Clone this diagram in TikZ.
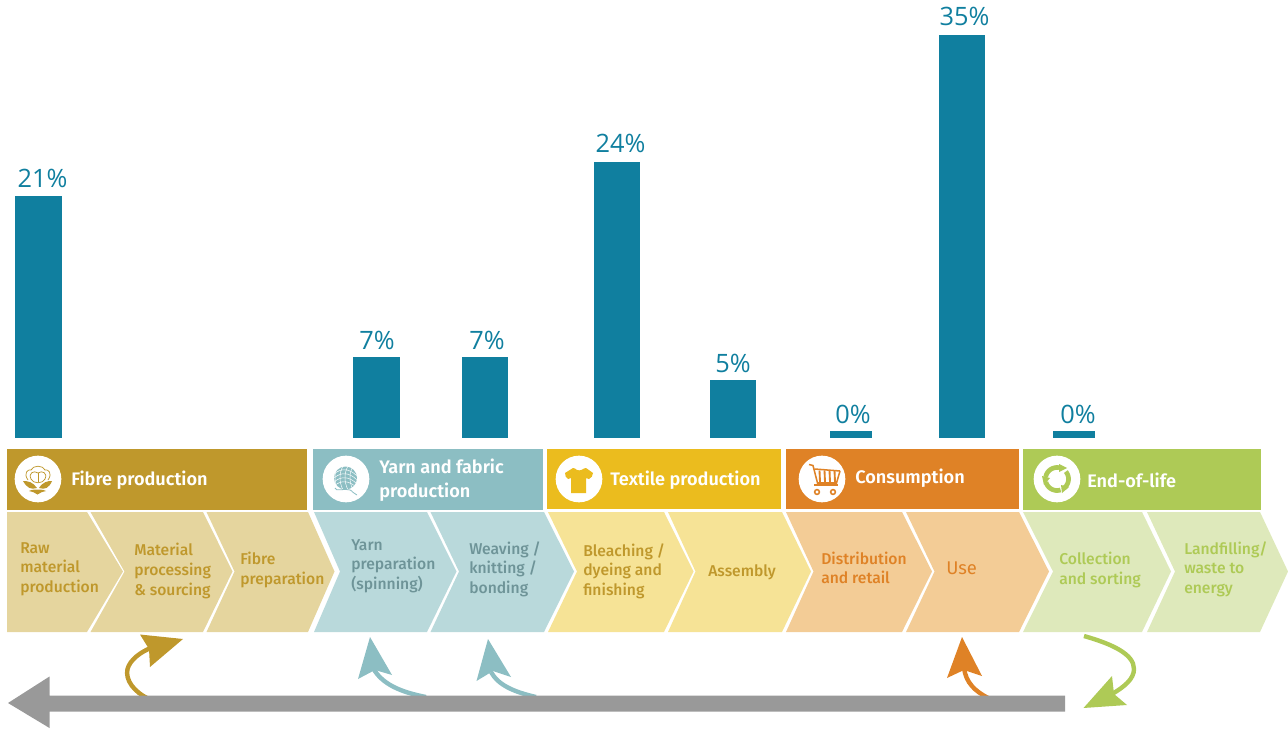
\documentclass[tikz,border=0pt]{standalone}
\usepackage{fontspec}
\setmainfont{Liberation Sans}
\newfontfamily\pctfont{Open Sans}
\newfontfamily\stepfont{Fira Sans Medium}
\newfontfamily\lightstepfont{Fira Sans}
\newfontfamily\headfont{Fira Sans SemiBold}
\usetikzlibrary{arrows.meta,calc}
\definecolor{barc}{HTML}{107F9F}
\definecolor{goldD}{HTML}{BF982C}\definecolor{goldL}{HTML}{E5D59E}
\definecolor{tealD}{HTML}{8CBEC3}\definecolor{tealL}{HTML}{B9D9DB}\definecolor{tealT}{HTML}{6E9498}
\definecolor{yelD}{HTML}{EBBC1E}\definecolor{yelL}{HTML}{F6E396}
\definecolor{orD}{HTML}{DF8226}\definecolor{orL}{HTML}{F3CC96}
\definecolor{grD}{HTML}{AECA56}\definecolor{grL}{HTML}{DEE9BB}
\definecolor{greyc}{HTML}{999999}
\tikzset{
 x=0.75pt,y=-0.75pt,
 bar/.style={fill=barc,draw=none},
 pct/.style={font=\pctfont\fontsize{19}{19}\selectfont,text=barc,anchor=base,inner sep=0pt},
 htext/.style={font=\headfont\fontsize{13.6}{18}\selectfont,text=white,anchor=west,align=left,inner sep=0pt},
 stext/.style={font=\stepfont\fontsize{11.75}{14.7}\selectfont,anchor=west,align=left,inner sep=0pt},
 iconbg/.style={circle,fill=white,minimum size=35pt,inner sep=0pt},
 curve/.style={line width=3.3pt},
}
\begin{document}
\begin{tikzpicture}
\useasboundingbox (0,0) rectangle (1288,731);
% bars
\fill[bar] (15,196) rectangle (62,438);
\fill[bar] (353,357) rectangle (400,438);
\fill[bar] (462,357) rectangle (508,438);
\fill[bar] (594,162) rectangle (640,438);
\fill[bar] (710,380) rectangle (756,438);
\fill[bar] (830,431) rectangle (872,438);
\fill[bar] (939,35) rectangle (985,438);
\fill[bar] (1053,431) rectangle (1095,438);
\node[pct] (p1) at (42.5,187) {21\%};
\node[pct] (p2) at (377,349) {7\%};
\node[pct] (p3) at (487,349) {7\%};
\node[pct] (p4) at (620.5,152) {24\%};
\node[pct] (p5) at (733,372) {5\%};
\node[pct] (p6) at (853,423) {0\%};
\node[pct] (p7) at (964.5,26) {35\%};
\node[pct] (p8) at (1078,423) {0\%};
% header bands
\fill[goldD] (7,449) rectangle (307,510);
\fill[tealD] (313,449) rectangle (543,510);
\fill[yelD] (547,449) rectangle (781,509);
\fill[orD] (786,449) rectangle (1019,509);
\fill[grD] (1023,449) rectangle (1261,510);
% chevrons
\fill[goldL] (7,512) -- (87,512) -- (123,571.5) -- (87,632) -- (7,632) -- cycle;
\fill[goldL] (90.5,512) -- (203,512) -- (232.5,571.5) -- (203,632) -- (90.5,632) -- (124.5,571.5) -- cycle;
\fill[goldL] (206.5,512) -- (308,512) -- (334.5,571.5) -- (308,632) -- (206.5,632) -- (234.5,571.5) -- cycle;
\fill[tealL] (314,512) -- (427,512) -- (456.5,571.5) -- (427,632) -- (314,632) -- (340,571.5) -- cycle;
\fill[tealL] (430.5,512) -- (544,512) -- (574,571.5) -- (544,632) -- (430.5,632) -- (459,571.5) -- cycle;
\fill[yelL] (548,512) -- (664,512) -- (693.5,571.5) -- (664,632) -- (548,632) -- (577,571.5) -- cycle;
\fill[yelL] (668,512) -- (782,512) -- (811,571.5) -- (782,632) -- (668,632) -- (695.5,571.5) -- cycle;
\fill[orL] (786,512) -- (902,512) -- (932,571.5) -- (902,632) -- (786,632) -- (813.5,571.5) -- cycle;
\fill[orL] (906,512) -- (1019,512) -- (1049,571.5) -- (1019,632) -- (906,632) -- (934.5,571.5) -- cycle;
\fill[grL] (1023,512) -- (1142,512) -- (1171,571.5) -- (1142,632) -- (1023,632) -- (1053,571.5) -- cycle;
\fill[grL] (1147,512) -- (1260,512) -- (1288,571.5) -- (1260,632) -- (1147,632) -- (1175,571.5) -- cycle;
% header texts
\node[htext] (h1) at (71,480) {Fibre production};
\node[htext] (h2) at (379,480.5) {Yarn and fabric\\production};
\node[htext] (h3) at (610,480.5) {Textile production};
\node[htext] (h4) at (855,478) {Consumption};
\node[htext] (h5) at (1087,480.5) {End-of-life};
% step texts
\node[stext,text=goldD] (s1) at (20,569) {Raw\\material\\production};
\node[stext,text=goldD] (s2) at (134,571) {Material\\processing\\\&\ sourcing};
\node[stext,text=goldD] (s3) at (240,570) {Fibre\\preparation};
\node[stext,text=tealT] (s4) at (351,566) {Yarn\\preparation\\(spinning)};
\node[stext,text=tealT] (s5) at (469,569) {Weaving /\\knitting /\\bonding};
\node[stext,text=goldD] (s6) at (583,571) {Bleaching /\\dyeing and\\finishing};
\node[stext,text=goldD] (s7) at (708,572.5) {Assembly};
\node[stext,text=orD] (s8) at (821,568) {Distribution\\and retail};
\node[stext,text=orD,font=\lightstepfont\fontsize{13.8}{15}\selectfont] (s9) at (946,568) {Use};
\node[stext,text=grD] (s10) at (1059,570) {Collection\\and sorting};
\node[stext,text=grD] (s11) at (1184,569) {Landfilling/\\waste to\\energy};
% icon discs
\node[iconbg] (i1) at (38,479) {};
\node[iconbg] (i2) at (346,479) {};
\node[iconbg] (i3) at (579,479) {};
\node[iconbg] (i4) at (822,479) {};
\node[iconbg] (i5) at (1057,479) {};
% cotton
\begin{scope}[goldD,line width=0.55pt]
\draw (28,480) .. controls (23,473) and (28,469) .. (31,470) .. controls (33,465) and (43,465) .. (45,470) .. controls (48,469) and (53,473) .. (48,480);
\draw (31,479) .. controls (28,473) and (34,470) .. (38,473) .. controls (42,470) and (48,473) .. (45,479) .. controls (43,484) and (33,484) .. (31,479) -- cycle;
\draw (38,473) -- (38,482);
\fill (23,481) .. controls (28,481) and (33,482) .. (37,488) .. controls (31,490) and (27,488) .. (23,481) -- cycle;
\fill (52,481) .. controls (47,481) and (43,482) .. (39,488) .. controls (45,490) and (49,488) .. (52,481) -- cycle;
\fill (29,491) .. controls (33,489) and (35,490) .. (37.5,489.5) .. controls (40,490) and (42,489) .. (46,491) .. controls (43,492) and (40,492) .. (37.5,494.5) .. controls (35,492) and (32,492) .. (29,491) -- cycle;
\end{scope}
% yarn
\fill[tealD] (345.5,478) circle[radius=11.5];
\begin{scope}
\clip (345.5,478) circle[radius=11.5];
\foreach \d in {-8,-4,0,4,8}{\draw[white,line width=0.35pt] (334,478+\d) .. controls (341,472+\d) and (349,472+\d) .. (357,480+\d);}
\foreach \d in {-8,-3,2,7}{\draw[white,line width=0.35pt] (346+\d,466) .. controls (342+\d,473) and (342+\d,482) .. (346+\d,490);}
\end{scope}
\draw[tealD,line width=0.6pt] (335,488) .. controls (335,492) and (345,488) .. (350,490) .. controls (354,492) and (349,490) .. (357,495);
% shirt
\fill[yelD] (573,468) -- (575,468.5) .. controls (577,471) and (581,471) .. (584,468.5) -- (586,468) -- (593,473) .. controls (593,476) and (591,478) .. (589,479) -- (586,478) -- (586,493) -- (571,493) -- (571,478) -- (568,479) .. controls (566,478) and (565,476) .. (565,473) -- cycle;
% cart
\begin{scope}[orD,line width=1.15pt]
\draw (809,464.5) -- (813,465.5) -- (818,485);
\draw (814.5,469) -- (840,471);
\draw (840,471) -- (836.5,483) -- (818,483);
\foreach \x in {819.5,824.5,829.5,834.5}{\draw[line width=1.4pt] (\x,470.5) -- (\x+0.5,482);}
\draw[line width=1.5pt] (814,484.5) -- (838,484.5);
\draw (817,492) circle[radius=2.4];
\draw (833,492) circle[radius=2.4];
\end{scope}
% recycle
\begin{scope}[grD,line width=3.5pt]
\draw plot[domain=-40:50,samples=20] ({1057+11.5*cos(\x)},{479+11.5*sin(\x)});
\draw plot[domain=72:165,samples=20] ({1057+11.5*cos(\x)},{479+11.5*sin(\x)});
\draw plot[domain=190:280,samples=20] ({1057+11.5*cos(\x)},{479+11.5*sin(\x)});
\fill (1059,464) -- (1067,468) -- (1059,472) -- cycle;
\fill (1069,487) -- (1062,493) -- (1061,485) -- cycle;
\fill (1044,485) -- (1042,476) -- (1050,478) -- cycle;
\end{scope}
% small arrows
\draw[goldD,curve] (149,699) .. controls (134,692) and (125,680) .. (127.5,669) .. controls (130,660) and (140,652) .. (153,647);
\fill[goldD] (140,634.5) -- (183,639) -- (150,667) -- (149,649) -- cycle;
\draw[tealD,curve] (426,697) .. controls (400,692) and (382,684) .. (373,668);
\fill[tealD] (370,637) -- (392,675) -- (375,670) -- (358,679) -- cycle;
\draw[tealD,curve] (536,697) .. controls (514,692) and (498,685) .. (491,672);
\fill[tealD] (488,639) -- (511,677) -- (493,671) -- (476.5,681) -- cycle;
\draw[orD,curve] (988,698) .. controls (975,691) and (966,683) .. (964,668);
\fill[orD] (962,637) -- (982,676) -- (964,670) -- (947,678) -- cycle;
\draw[grD,curve] (1084,636) .. controls (1112,644) and (1134,654) .. (1134,669) .. controls (1134,679) and (1124,687) .. (1112,694);
\fill[grD] (1083.5,708) -- (1112,676) -- (1114,694) -- (1127,705) -- cycle;
% big grey arrow
\coordinate (ga) at (1065,703.5);
\coordinate (gb) at (8,703);
\fill[greyc] (ga |- 0,695.5) -- (49.5,695.5) -- (49.5,676.5) -- (gb) -- (49.5,728) -- (49.5,711.5) -- (ga |- 0,711.5) -- cycle;
\end{tikzpicture}
\end{document}
